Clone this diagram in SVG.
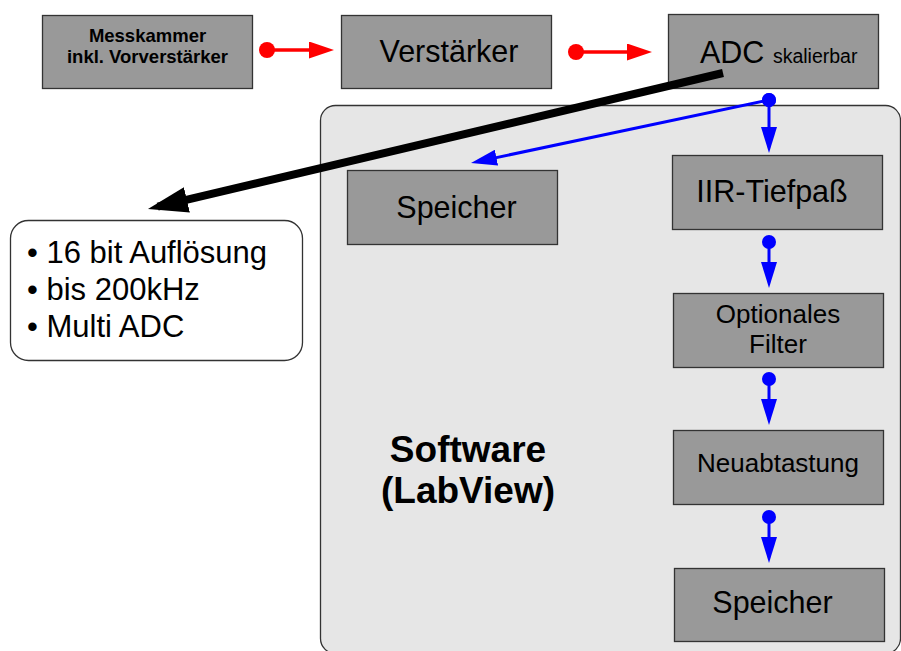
<svg xmlns="http://www.w3.org/2000/svg" width="901" height="651" viewBox="0 0 901 651">
<defs>
<style>
.box{fill:#999999;stroke:#333333;stroke-width:1.3}
.t{font-family:"Liberation Sans",Arial,sans-serif;fill:#000;text-anchor:middle}
.b{font-weight:bold}
.red{stroke:#ff0000;stroke-width:3.5;fill:none}
.blue{stroke:#0000ff;stroke-width:3;fill:none}
</style>
<marker id="dotR" viewBox="0 0 18 18" refX="9" refY="9" markerWidth="18" markerHeight="18" markerUnits="userSpaceOnUse"><circle cx="9" cy="9" r="8" fill="#ff0000"/></marker>
<marker id="triR" viewBox="0 0 25 17" refX="15" refY="8.5" markerWidth="25" markerHeight="17" markerUnits="userSpaceOnUse" orient="auto"><path d="M0,0 L25,8.5 L0,17 z" fill="#ff0000"/></marker>
<marker id="dotB" viewBox="0 0 16 16" refX="8" refY="8" markerWidth="16" markerHeight="16" markerUnits="userSpaceOnUse"><circle cx="8" cy="8" r="7" fill="#0000ff"/></marker>
<marker id="triB" viewBox="0 0 26 16" refX="16" refY="8" markerWidth="26" markerHeight="16" markerUnits="userSpaceOnUse" orient="auto"><path d="M0,0 L26,8 L0,16 z" fill="#0000ff"/></marker>
<marker id="triK" viewBox="0 0 40 26" refX="30" refY="13" markerWidth="40" markerHeight="26" markerUnits="userSpaceOnUse" orient="auto"><path d="M0,0 L40,13 L0,26 z" fill="#000000"/></marker>
</defs>
<rect width="901" height="651" fill="#ffffff"/>

<g id="software">
<rect x="320.5" y="105.5" width="580" height="548" rx="15" fill="#e6e6e6" stroke="#333333" stroke-width="1.3"/>
<text class="t b" x="468" y="462" font-size="37">Software</text>
<text class="t b" x="468" y="503" font-size="37">(LabView)</text>
</g>

<g id="messkammer">
<rect class="box" x="42.5" y="15.5" width="210" height="73"/>
<text class="t b" x="147.5" y="42" font-size="18.5">Messkammer</text>
<text class="t b" x="147.5" y="63" font-size="18.5">inkl. Vorverstärker</text>
</g>

<g id="verstaerker">
<rect class="box" x="341.5" y="15.5" width="210" height="73"/>
<text class="t" x="449" y="62" font-size="30.5">Verstärker</text>
</g>

<g id="adc">
<rect class="box" x="668.5" y="14.5" width="210" height="74"/>
<text class="t" x="700" y="62.5" font-size="30.5" text-anchor="start" style="text-anchor:start">ADC <tspan font-size="19.5">skalierbar</tspan></text>
</g>

<g id="speicher1">
<rect class="box" x="347.5" y="170.5" width="210" height="74"/>
<text class="t" x="456.5" y="218" font-size="30.5">Speicher</text>
</g>

<g id="iir">
<rect class="box" x="672.5" y="155.5" width="210" height="74"/>
<text class="t" x="772" y="202" font-size="30.5">IIR-Tiefpaß</text>
</g>

<g id="optfilter">
<rect class="box" x="673.5" y="293.5" width="210" height="74"/>
<text class="t" x="778" y="323" font-size="26">Optionales</text>
<text class="t" x="778" y="353" font-size="26">Filter</text>
</g>

<g id="neuabtastung">
<rect class="box" x="673.5" y="430.5" width="210" height="74"/>
<text class="t" x="778" y="472" font-size="26">Neuabtastung</text>
</g>

<g id="speicher2">
<rect class="box" x="674.5" y="568.5" width="210" height="73"/>
<text class="t" x="772.5" y="613" font-size="30.5">Speicher</text>
</g>

<g id="info">
<rect x="10.5" y="220.5" width="292" height="140" rx="18" fill="#ffffff" stroke="#333333" stroke-width="1.3"/>
<text class="t" x="27" y="263" font-size="31" style="text-anchor:start">• 16 bit Auflösung</text>
<text class="t" x="27" y="300" font-size="31" style="text-anchor:start">• bis 200kHz</text>
<text class="t" x="27" y="337" font-size="31" style="text-anchor:start">• Multi ADC</text>
</g>

<g id="connectors">
<path class="red" d="M267,50 L324,50" marker-start="url(#dotR)" marker-end="url(#triR)"/>
<path class="red" d="M576,52 L642,52" marker-start="url(#dotR)" marker-end="url(#triR)"/>
<path d="M723,73 L157.7,206.7" stroke="#000000" stroke-width="8" fill="none" marker-end="url(#triK)"/>
<path class="blue" d="M769,100 L480.8,160.9" marker-start="url(#dotB)" marker-end="url(#triB)"/>
<path class="blue" d="M769,100 L769,143" marker-start="url(#dotB)" marker-end="url(#triB)"/>
<path class="blue" d="M769,242 L769,278" marker-start="url(#dotB)" marker-end="url(#triB)"/>
<path class="blue" d="M769,379 L769,415" marker-start="url(#dotB)" marker-end="url(#triB)"/>
<path class="blue" d="M769,517 L769,553" marker-start="url(#dotB)" marker-end="url(#triB)"/>
</g>
</svg>
